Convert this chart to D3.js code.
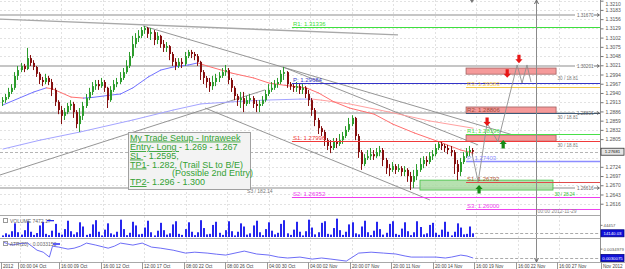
<!DOCTYPE html>
<html>
<head>
<meta charset="utf-8">
<title>EUR/USD H4 - My Trade Setup</title>
<script src="https://cdnjs.cloudflare.com/ajax/libs/d3/7.8.5/d3.min.js"></script>
<style>
  body { margin: 0; background: #fff; }
  svg { display: block; font-family: "Liberation Sans", Arial, sans-serif; }
</style>
</head>
<body>
<div id="chart"></div>
<script>
// candles: [open, high, low, close]
var candles = [
  [1.2914,1.2928,1.2902,1.2919],[1.2919,1.2937,1.2911,1.2928],[1.2928,1.2955,1.2922,1.2943],[1.2943,1.2966,1.2937,1.2955],
  [1.2955,1.3001,1.2949,1.2990],[1.2990,1.3019,1.2978,1.3007],[1.3007,1.3028,1.3001,1.3019],[1.3019,1.3025,1.3001,1.3010],
  [1.3010,1.3072,1.3007,1.3042],[1.3042,1.3051,1.3019,1.3028],[1.3028,1.3036,1.3007,1.3016],[1.3016,1.3019,1.2987,1.2996],
  [1.2996,1.3001,1.2966,1.2978],[1.2978,1.2987,1.2960,1.2972],[1.2972,1.2996,1.2966,1.2984],[1.2984,1.2990,1.2963,1.2972],
  [1.2972,1.2981,1.2931,1.2949],[1.2949,1.2955,1.2902,1.2914],[1.2914,1.2919,1.2878,1.2890],[1.2890,1.2902,1.2849,1.2873],
  [1.2873,1.2896,1.2861,1.2884],[1.2884,1.2911,1.2878,1.2902],[1.2902,1.2919,1.2890,1.2908],[1.2908,1.2914,1.2867,1.2884],
  [1.2884,1.2890,1.2837,1.2849],[1.2849,1.2896,1.2826,1.2873],[1.2873,1.2914,1.2861,1.2902],[1.2902,1.2937,1.2896,1.2925],
  [1.2925,1.2955,1.2919,1.2943],[1.2943,1.2972,1.2934,1.2960],[1.2960,1.2978,1.2949,1.2966],[1.2966,1.2978,1.2949,1.2960],
  [1.2960,1.2984,1.2955,1.2972],[1.2972,1.2978,1.2943,1.2955],[1.2955,1.2958,1.2896,1.2919],[1.2919,1.2960,1.2914,1.2949],
  [1.2949,1.2978,1.2943,1.2966],[1.2966,1.2984,1.2957,1.2972],[1.2972,1.3001,1.2966,1.2984],[1.2984,1.3013,1.2978,1.3001],
  [1.3001,1.3036,1.2996,1.3019],[1.3019,1.3060,1.3013,1.3048],[1.3048,1.3107,1.3042,1.3083],[1.3083,1.3115,1.3072,1.3101],
  [1.3101,1.3124,1.3089,1.3107],[1.3107,1.3133,1.3101,1.3124],[1.3124,1.3136,1.3113,1.3130],[1.3130,1.3133,1.3101,1.3113],
  [1.3113,1.3130,1.3095,1.3118],[1.3118,1.3124,1.3080,1.3095],[1.3095,1.3118,1.3083,1.3107],[1.3107,1.3110,1.3072,1.3083],
  [1.3083,1.3095,1.3060,1.3072],[1.3072,1.3089,1.3060,1.3077],[1.3077,1.3080,1.3036,1.3054],[1.3054,1.3060,1.3019,1.3031],
  [1.3031,1.3042,1.3007,1.3019],[1.3019,1.3042,1.3013,1.3031],[1.3031,1.3042,1.3013,1.3025],[1.3025,1.3060,1.3019,1.3048],
  [1.3048,1.3066,1.3042,1.3060],[1.3060,1.3066,1.3042,1.3054],[1.3054,1.3060,1.3036,1.3048],[1.3048,1.3054,1.3019,1.3031],
  [1.3031,1.3034,1.2978,1.3001],[1.3001,1.3007,1.2966,1.2984],[1.2984,1.2990,1.2955,1.2972],[1.2972,1.2984,1.2943,1.2960],
  [1.2960,1.2990,1.2949,1.2972],[1.2972,1.2996,1.2960,1.2984],[1.2984,1.3001,1.2972,1.2990],[1.2990,1.3013,1.2984,1.3001],
  [1.3001,1.3022,1.2990,1.3007],[1.3007,1.3013,1.2966,1.2978],[1.2978,1.2984,1.2943,1.2955],[1.2955,1.2960,1.2919,1.2931],
  [1.2931,1.2937,1.2902,1.2919],[1.2919,1.2943,1.2896,1.2925],[1.2925,1.2943,1.2884,1.2908],[1.2908,1.2931,1.2902,1.2919],
  [1.2919,1.2937,1.2908,1.2925],[1.2925,1.2931,1.2896,1.2908],[1.2908,1.2919,1.2884,1.2902],[1.2902,1.2919,1.2884,1.2908],
  [1.2908,1.2931,1.2902,1.2919],[1.2919,1.2949,1.2914,1.2937],[1.2937,1.2966,1.2931,1.2949],[1.2949,1.2972,1.2943,1.2955],
  [1.2955,1.2978,1.2949,1.2966],[1.2966,1.2984,1.2955,1.2972],[1.2972,1.3007,1.2966,1.2996],[1.2996,1.3016,1.2978,1.3001],
  [1.3001,1.3004,1.2955,1.2966],[1.2966,1.2972,1.2949,1.2960],[1.2960,1.2966,1.2943,1.2955],[1.2955,1.2972,1.2943,1.2960],
  [1.2960,1.2966,1.2937,1.2949],[1.2949,1.2966,1.2937,1.2955],[1.2955,1.2960,1.2925,1.2937],[1.2937,1.2949,1.2902,1.2919],
  [1.2919,1.2925,1.2873,1.2890],[1.2890,1.2896,1.2843,1.2861],[1.2861,1.2867,1.2820,1.2837],[1.2837,1.2843,1.2814,1.2826],
  [1.2826,1.2832,1.2785,1.2802],[1.2802,1.2808,1.2773,1.2785],[1.2785,1.2802,1.2764,1.2779],[1.2779,1.2808,1.2773,1.2797],
  [1.2797,1.2808,1.2779,1.2791],[1.2791,1.2820,1.2785,1.2802],[1.2802,1.2826,1.2791,1.2814],[1.2814,1.2843,1.2808,1.2832],
  [1.2832,1.2867,1.2826,1.2849],[1.2849,1.2875,1.2843,1.2867],[1.2867,1.2870,1.2802,1.2814],[1.2814,1.2820,1.2750,1.2767],
  [1.2767,1.2773,1.2715,1.2732],[1.2732,1.2761,1.2726,1.2750],[1.2750,1.2773,1.2744,1.2755],[1.2755,1.2779,1.2744,1.2761],
  [1.2761,1.2773,1.2744,1.2755],[1.2755,1.2779,1.2750,1.2767],[1.2767,1.2785,1.2755,1.2773],[1.2773,1.2779,1.2726,1.2744],
  [1.2744,1.2750,1.2703,1.2720],[1.2720,1.2732,1.2697,1.2715],[1.2715,1.2738,1.2709,1.2726],[1.2726,1.2732,1.2703,1.2715],
  [1.2715,1.2732,1.2709,1.2720],[1.2720,1.2726,1.2697,1.2709],[1.2709,1.2726,1.2697,1.2715],[1.2715,1.2720,1.2680,1.2697],
  [1.2697,1.2709,1.2656,1.2680],[1.2680,1.2715,1.2662,1.2697],[1.2697,1.2732,1.2685,1.2715],[1.2715,1.2750,1.2709,1.2732],
  [1.2732,1.2755,1.2720,1.2744],[1.2744,1.2755,1.2726,1.2738],[1.2738,1.2767,1.2732,1.2755],[1.2755,1.2773,1.2744,1.2761],
  [1.2761,1.2791,1.2755,1.2779],[1.2779,1.2799,1.2773,1.2791],[1.2791,1.2799,1.2773,1.2785],[1.2785,1.2791,1.2767,1.2779],
  [1.2779,1.2788,1.2761,1.2773],[1.2773,1.2785,1.2755,1.2767],[1.2767,1.2773,1.2703,1.2732],[1.2732,1.2744,1.2685,1.2709],
  [1.2709,1.2750,1.2697,1.2738],[1.2738,1.2767,1.2732,1.2755],[1.2755,1.2779,1.2750,1.2767],[1.2767,1.2785,1.2755,1.2773],
  [1.2773,1.2779,1.2755,1.27681]
];

var volumes = [
  6000,14000,9000,22000,52000,18000,9000,26000,60000,20000,
  8000,15000,44000,58000,12000,7000,24000,50000,16000,9000,
  30000,62000,22000,10000,18000,56000,40000,8000,12000,48000,
  64000,20000,6000,28000,52000,14000,9000,20000,66000,30000,
  7000,16000,58000,44000,10000,12000,36000,62000,18000,6000,
  24000,54000,26000,9000,14000,48000,60000,12000,8000,30000,
  56000,20000,7000,18000,64000,34000,10000,12000,46000,58000,
  16000,8000,26000,60000,22000,6000,20000,52000,40000,9000,
  14000,44000,62000,18000,7000,30000,56000,24000,10000,16000,
  50000,64000,14000,8000,28000,58000,20000,6000,22000,66000,
  36000,10000,18000,54000,60000,12000,9000,34000,70000,26000,
  8000,20000,48000,56000,14000,10000,40000,62000,18000,7000,
  24000,58000,30000,9000,16000,50000,60000,12000,8000,32000,
  56000,22000,7000,18000,60000,38000,10000,14000,46000,54000,
  16000,8000,28000,58000,20000,6000,20000,52000,36000,10000,
  12000,40000,14140.03
];

// moving averages: [bar, price]
var maFast = [[0,1.2905],[10,1.2943],[14,1.2955],[16,1.2952],[22,1.2928],[26,1.2925],[29,1.2927],[35,1.2934],
  [38,1.2937],[42,1.2955],[47,1.2987],[51,1.3007],[55,1.3016],[60,1.3022],[63,1.3028],[66,1.3019],[74,1.2998],
  [81,1.2984],[86,1.2969],[93,1.2960],[98,1.2955],[102,1.2940],[107,1.2914],[112,1.2896],[120,1.2878],
  [126,1.2849],[133,1.2823],[141,1.2797],[148,1.2773],[152,1.2764]];
var maSlow = [[0,1.2776],[12,1.2802],[25,1.2826],[42,1.2861],[55,1.2890],[64,1.2908],[74,1.2914],[84,1.2919],
  [96,1.2922],[100,1.2922],[103,1.2919],[112,1.2908],[125,1.2884],[138,1.2858],[152,1.2837]];

var atr = [[0,0.00388],[3,0.00372],[5,0.00380],[8,0.00383],[11,0.00344],[13,0.00333],[15,0.00306],[16,0.00366],
  [18,0.00361],[21,0.00350],[23,0.00355],[25,0.00366],[27,0.00383],[30,0.00372],[34,0.00355],[36,0.00366],
  [38,0.00383],[42,0.00372],[45,0.00383],[48,0.00361],[51,0.00355],[55,0.00344],[59,0.00328],[62,0.00333],
  [66,0.00328],[69,0.00322],[72,0.00317],[75,0.00328],[78,0.00339],[82,0.00323],[86,0.00317],[89,0.00306],
  [92,0.00301],[96,0.00306],[100,0.00295],[103,0.00301],[106,0.00295],[111,0.00284],[113,0.00306],[115,0.00328],
  [119,0.00333],[123,0.00328],[127,0.00323],[130,0.00312],[132,0.00306],[136,0.00306],[140,0.00306],[143,0.00301],
  [145,0.00306],[148,0.00317],[150,0.00312],[152,0.0030075]];

var priceTicks = [1.3210,1.3183,1.3156,1.3129,1.3102,1.3075,1.3048,1.3021,1.2994,1.2967,1.2940,1.2913,
  1.2886,1.2859,1.2832,1.2805,1.2778,1.2751,1.2724,1.2697,1.2670,1.2643,1.2616];
var dateTicks = [[0,"2012"],[5.5,"00:00 04 Oct"],[18.75,"16:00 09 Oct"],[32.3,"16:00 12 Oct"],[45.6,"12:00 17 Oct"],
  [59.2,"08:00 22 Oct"],[72.4,"08:00 26 Oct"],[86,"04:00 30 Oct"],[99.3,"04:00 02 Nov"],[112.8,"20:00 07 Nov"],
  [126.1,"20:00 11 Nov"],[139.7,"20:00 14 Nov"],[152.9,"16:00 19 Nov"],[166.5,"16:00 22 Nov"],[179.8,"16:00 27 Nov"],
  [194,"Nov 2012"]];

// horizontal levels
var grayLevels = [1.31670, 1.30201, 1.28806, 1.26616];
var weeklyPivots = [["R1",1.31336],["P",1.29684],["S1",1.27996],["S2",1.26352]];
var weeklyStart = 93.4;
var dailyPivots = [["R3",1.29583],["R2",1.28806],["R1",1.28196],["P",1.27403],["S1",1.26792],["S3",1.26000]];
var dailyStart = 149.7;

// trade zones: [fromBar, toBar, low, high, kind, note]
var zones = [[149.7,178.8,1.2995,1.3013,"sell","30 / 18.81"],[149.7,178.8,1.2881,1.2899,"sell","30 / 18.81"],
  [149.7,178.8,1.2799,1.2817,"sell","30 / 18.81"],[134.8,177.8,1.2656,1.2685,"buy","30 / 28.24"]];

// trend lines: [[bar, price], [bar, price]]
var trendLines = [[[-1,1.3156],[127.7,1.3110]],[[45.3,1.3136],[167.2,1.2811]],[[90.5,1.3016],[153.6,1.2788]],
  [[65.3,1.2896],[138,1.2627]],[[-1,1.2700],[84.7,1.2949]]];

// projected path and signal arrows
var projection = [[151.6,1.2764],[153.6,1.2680],[156.5,1.2852],[160.0,1.2797],[166.2,1.3022],[167.8,1.2969],
  [169.4,1.3022],[170.7,1.2972]];
var signals = [[156.5,1.2855,"sell"],[163,1.2996,"sell"],[166.8,1.3039,"sell"],[153.9,1.2659,"buy"],[161.7,1.2791,"buy"]];

var markerBar = 172.3;
var setupLines = [
  [{t:"My Trade Setup - Intraweek", u:true}],
  [{t:"Entry- Long ", u:true},{t:"- 1.269 - 1.267"}],
  [{t:"SL ", u:true},{t:" - 1.2595,"}],
  [{t:"TP1", u:true},{t:"- 1.282, (Trail SL to B/E)"}],
  [{t:"(Possible 2nd Entry)"}],
  [{t:"TP2", u:true},{t:"- 1.296 - 1.300"}]
];

var pivotColor = {
  wR1:"#3ee03e", wP:"#3434c8", wS1:"#f03a3a", wS2:"#ee3cee",
  dR3:"#f2c84a", dR2:"#3b5a78", dR1:"#48e048", dP:"#8c8cff", dS1:"#e04a4a", dS3:"#ee44ee"
};
var labelColor = { dR2:"#9a4a3a", dS1:"#b0502e" };

var W = 625, H = 269;
var svg = d3.select("#chart").append("svg").attr("width", W).attr("height", H);

var x = d3.scaleLinear().domain([0, 193]).range([3, 600]);
var y = d3.scaleLinear().domain([1.2583, 1.3212]).range([215, 0]);
var yVol = d3.scaleLinear().domain([0, 80000]).range([237, 216]);
var yAtr = d3.scaleLinear().domain([0.0029, 0.0040]).range([260, 240]);

svg.append("defs").append("clipPath").attr("id", "clipMain")
  .append("rect").attr("x", 0).attr("y", 0).attr("width", 600).attr("height", 215);

// grid
var grid = svg.append("g");
grid.selectAll("line.h").data(priceTicks).join("line")
  .attr("x1", 0).attr("x2", 600).attr("y1", d => Math.round(y(d)) + 0.5).attr("y2", d => Math.round(y(d)) + 0.5)
  .attr("stroke", "#e2e2e2").attr("stroke-dasharray", "2,2");
grid.selectAll("line.v").data(dateTicks.filter(d => d[0] > 1 && d[0] < 190)).join("line")
  .attr("x1", d => Math.round(x(d[0])) + 0.5).attr("x2", d => Math.round(x(d[0])) + 0.5)
  .attr("y1", 0).attr("y2", 262).attr("stroke", "#e2e2e2").attr("stroke-dasharray", "2,2");

var g = svg.append("g").attr("clip-path", "url(#clipMain)");

// gray levels
grayLevels.forEach(function(p) {
  var yy = Math.round(y(p));
  g.append("line").attr("x1", 0).attr("x2", 575).attr("y1", yy).attr("y2", yy)
    .attr("stroke", "#c6c6c6").attr("stroke-width", 2);
  svg.append("text").attr("x", 593.5).attr("y", yy + 1.6).attr("text-anchor", "end")
    .attr("font-size", 4.6).attr("fill", "#666").text(d3.format(".5f")(p));
  svg.append("path").attr("d", "M594," + yy + "H599M597," + (yy - 1.5) + "L599.5," + yy + "L597," + (yy + 1.5))
    .attr("stroke", "#555").attr("fill", "none").attr("stroke-width", 0.8);
});
svg.append("text").attr("x", x(78.9)).attr("y", y(1.2647)).attr("font-size", 5).attr("fill", "#777").text("S3 / 182.14");

// current price line
var last = candles[candles.length - 1][3];
g.append("line").attr("x1", 0).attr("x2", 600).attr("y1", Math.round(y(last)) + 0.5).attr("y2", Math.round(y(last)) + 0.5)
  .attr("stroke", "#b4b4b4").attr("stroke-dasharray", "3,2");

// trend lines
g.selectAll("line.trend").data(trendLines).join("line")
  .attr("x1", d => x(d[0][0])).attr("y1", d => y(d[0][1]))
  .attr("x2", d => x(d[1][0])).attr("y2", d => y(d[1][1]))
  .attr("stroke", (d, i) => i === 0 ? "#a8a8a8" : "#8a8a8a")
  .attr("stroke-width", (d, i) => i === 0 ? 1.4 : 0.9);

// zones
g.selectAll("rect.zone").data(zones).join("rect")
  .attr("x", d => x(d[0])).attr("width", d => x(d[1]) - x(d[0]))
  .attr("y", d => y(d[3])).attr("height", d => y(d[2]) - y(d[3]))
  .attr("fill", d => d[4] === "sell" ? "#f59a9a" : "#a9dca2")
  .attr("fill-opacity", d => d[4] === "sell" ? 1 : 0.85)
  .attr("stroke", d => d[4] === "sell" ? "#a06060" : "#3fc03f").attr("stroke-width", 0.8);
svg.selectAll("text.zone").data(zones).join("text")
  .attr("x", d => x(d[1]) + 1.5).attr("y", d => y(d[2]) + 5.5)
  .attr("font-size", 4.6).attr("fill", d => d[4] === "sell" ? "#777" : "#33bb33").text(d => d[5]);

// moving averages, blue while rising, red while falling
function drawMA(points, up, down, width) {
  for (var i = 1; i < points.length; i++) {
    var a = points[i - 1], b = points[i];
    g.append("line").attr("x1", x(a[0])).attr("y1", y(a[1])).attr("x2", x(b[0])).attr("y2", y(b[1]))
      .attr("stroke", b[1] >= a[1] ? up : down).attr("stroke-width", width).attr("stroke-linecap", "round");
  }
}
drawMA(maSlow, "#a4a4ff", "#ffa0a0", 1);
drawMA(maFast, "#7272ff", "#ff7070", 1);

// candles
var bull = "#2c9c2c", bear = "#850f0f";
var cg = g.append("g");
cg.selectAll("line").data(candles).join("line")
  .attr("x1", (d, i) => Math.round(x(i)) - 0.5).attr("x2", (d, i) => Math.round(x(i)) - 0.5)
  .attr("y1", d => y(d[1])).attr("y2", d => y(d[2]))
  .attr("stroke", d => d[3] >= d[0] ? bull : bear);
cg.selectAll("rect").data(candles).join("rect")
  .attr("x", (d, i) => Math.round(x(i)) - 1).attr("width", 2)
  .attr("y", d => y(Math.max(d[0], d[3])))
  .attr("height", d => Math.max(1, Math.abs(y(d[0]) - y(d[3]))))
  .attr("fill", d => d[3] >= d[0] ? bull : bear);

// pivots
function drawPivots(list, start, prefix) {
  list.forEach(function(d) {
    var key = prefix + d[0], yy = Math.round(y(d[1])) + 0.5;
    g.append("line").attr("x1", x(start)).attr("x2", 600).attr("y1", yy).attr("y2", yy)
      .attr("stroke", pivotColor[key]).attr("stroke-width", key === "dP" ? 1.6 : 1.1);
    svg.append("text").attr("x", x(start) + 1).attr("y", yy - 1.8).attr("font-size", 6)
      .attr("fill", labelColor[key] || pivotColor[key]).text(d[0] + ": " + d3.format(".5f")(d[1]));
  });
}
drawPivots(weeklyPivots, weeklyStart, "w");
drawPivots(dailyPivots, dailyStart, "d");

// projected path
g.append("path").datum(projection)
  .attr("d", d3.line().x(d => x(d[0])).y(d => y(d[1])))
  .attr("fill", "none").attr("stroke", "#8e8e8e").attr("stroke-width", 0.9);

// signal arrows
svg.selectAll("path.sig").data(signals).join("path")
  .attr("transform", d => "translate(" + x(d[0]) + "," + y(d[1]) + ")" + (d[2] === "buy" ? " scale(1,-1)" : ""))
  .attr("d", "M-1.6,-4.5H1.6V0H3.6L0,4L-3.6,0H-1.6Z")
  .attr("fill", d => d[2] === "sell" ? "#e81616" : "#168a16");

// vertical time marker
var mx = Math.round(x(markerBar)) + 0.5;
svg.append("line").attr("x1", mx).attr("x2", mx).attr("y1", 1).attr("y2", 262).attr("stroke", "#8a8a8a");
svg.append("path").attr("d", "M" + (mx - 2) + ",4L" + mx + ",0L" + (mx + 2) + ",4").attr("fill", "none").attr("stroke", "#666");
svg.append("path").attr("d", "M" + (mx - 2) + ",258L" + mx + ",262L" + (mx + 2) + ",258").attr("fill", "none").attr("stroke", "#666");
svg.append("text").attr("x", mx + 1).attr("y", 213).attr("font-size", 5).attr("fill", "#888").text("00:00 2012-11-29");
svg.append("path").attr("d", "M" + (x(151.6) - 2) + ",0L" + (x(151.6) + 2) + ",0L" + x(151.6) + ",3Z").attr("fill", "#777");

// setup text box
var box = svg.append("g");
box.append("rect").attr("x", 128.5).attr("y", 132.5).attr("width", 122).attr("height", 57)
  .attr("fill", "#f3f3f3").attr("stroke", "#a0a0a0");
var lineX = [130, 130, 130, 130, 172, 130];
var lineY = [140.5, 150, 158.5, 167.5, 176, 185];
setupLines.forEach(function(parts, i) {
  var t = box.append("text").attr("x", lineX[i]).attr("y", lineY[i]).attr("font-size", 9).attr("fill", "#33a133");
  parts.forEach(function(p) {
    t.append("tspan").attr("text-decoration", p.u ? "underline" : null).text(p.t);
  });
});

// panel separators
svg.append("line").attr("x1", 0).attr("x2", 600).attr("y1", 215.5).attr("y2", 215.5).attr("stroke", "#a8a8a8");
svg.append("line").attr("x1", 0).attr("x2", 600).attr("y1", 238.5).attr("y2", 238.5).attr("stroke", "#a8a8a8");
svg.append("line").attr("x1", 0).attr("x2", 625).attr("y1", 262.5).attr("y2", 262.5).attr("stroke", "#a8a8a8");
svg.append("line").attr("x1", 600.5).attr("x2", 600.5).attr("y1", 0).attr("y2", 262).attr("stroke", "#909090");

// volume panel
svg.append("g").selectAll("rect").data(volumes).join("rect")
  .attr("x", (d, i) => Math.round(x(i)) - 1).attr("width", 2)
  .attr("y", d => yVol(d)).attr("height", d => 237 - yVol(d)).attr("fill", "#2626ee");
var lastVol = volumes[volumes.length - 1];
svg.append("line").attr("x1", x(152) + 2).attr("x2", 600).attr("y1", Math.round(yVol(lastVol)) + 0.5)
  .attr("y2", Math.round(yVol(lastVol)) + 0.5).attr("stroke", "#aaa").attr("stroke-dasharray", "3,2");
svg.append("rect").attr("x", 3.5).attr("y", 218.5).attr("width", 4).attr("height", 4).attr("fill", "none").attr("stroke", "#999");
svg.append("text").attr("x", 10).attr("y", 222.8).attr("font-size", 5).attr("fill", "#666").text("VOLUME   7472.17");
svg.append("rect").attr("x", 47).attr("y", 220).attr("width", 7).attr("height", 1.3).attr("fill", "#2626ee");

// ATR panel
svg.append("path").datum(atr)
  .attr("d", d3.line().x(d => x(d[0])).y(d => yAtr(d[1])))
  .attr("fill", "none").attr("stroke", "#5c5cf5").attr("stroke-width", 0.9);
svg.append("line").attr("x1", x(152) + 2).attr("x2", 600).attr("y1", Math.round(yAtr(0.0030075)) + 0.5)
  .attr("y2", Math.round(yAtr(0.0030075)) + 0.5).attr("stroke", "#aaa").attr("stroke-dasharray", "3,2");
svg.append("rect").attr("x", 3.5).attr("y", 241.5).attr("width", 4).attr("height", 4).attr("fill", "none").attr("stroke", "#999");
svg.append("text").attr("x", 10).attr("y", 245.8).attr("font-size", 5).attr("fill", "#666").text("ATR(20) : 0.0033153");
svg.append("rect").attr("x", 53).attr("y", 243).attr("width", 7).attr("height", 2).attr("fill", "#5c5cf5");

// right price axis
var boxY = y(last);
var axis = d3.axisRight(y).tickValues(priceTicks.filter(p => Math.abs(y(p) - boxY) > 6))
  .tickSize(3).tickPadding(2).tickFormat(d3.format(".4f"));
var ax = svg.append("g").attr("transform", "translate(600.5,0)").call(axis);
ax.select(".domain").remove();
ax.selectAll("line").attr("stroke", "#777");
ax.selectAll("text").attr("font-size", 5).attr("fill", "#555").attr("font-family", "Liberation Sans, Arial, sans-serif")
  .attr("dy", p => y(p) < 4 ? (5 - y(p)) + "px" : "0.32em");

function axisTag(yy, txt, fill, stroke, color) {
  svg.append("rect").attr("x", 601).attr("y", yy - 3.5).attr("width", 23).attr("height", 7)
    .attr("fill", fill).attr("stroke", stroke).attr("stroke-width", 0.8);
  svg.append("text").attr("x", 612.5).attr("y", yy + 1.6).attr("text-anchor", "middle")
    .attr("font-size", 4.3).attr("fill", color).text(txt);
}
function axisLabel(yy, txt) {
  svg.append("line").attr("x1", 600.5).attr("x2", 602.5).attr("y1", yy).attr("y2", yy).attr("stroke", "#777");
  svg.append("text").attr("x", 603.5).attr("y", yy + 1.6).attr("font-size", 4.3).attr("fill", "#555").text(txt);
}
axisTag(boxY, d3.format(".5f")(last), "#e4e4e4", "#333", "#111");
axisLabel(yVol(44457), "44457");
axisTag(yVol(lastVol), d3.format(".2f")(lastVol), "#1010d8", "#000080", "#fff");
axisLabel(yAtr(0.0034979), "0.0034979");
axisTag(yAtr(0.0030075), "0.0030075", "#1010d8", "#000080", "#fff");

// date axis
var dg = svg.append("g");
dg.selectAll("line").data(dateTicks).join("line")
  .attr("x1", d => Math.round(x(d[0])) - 1.5).attr("x2", d => Math.round(x(d[0])) - 1.5)
  .attr("y1", 262).attr("y2", 269).attr("stroke", "#999");
dg.selectAll("text").data(dateTicks).join("text")
  .attr("x", d => Math.round(x(d[0]))).attr("y", 267.8)
  .attr("font-size", 4.6).attr("fill", "#444").text(d => d[1]);
</script>
</body>
</html>
